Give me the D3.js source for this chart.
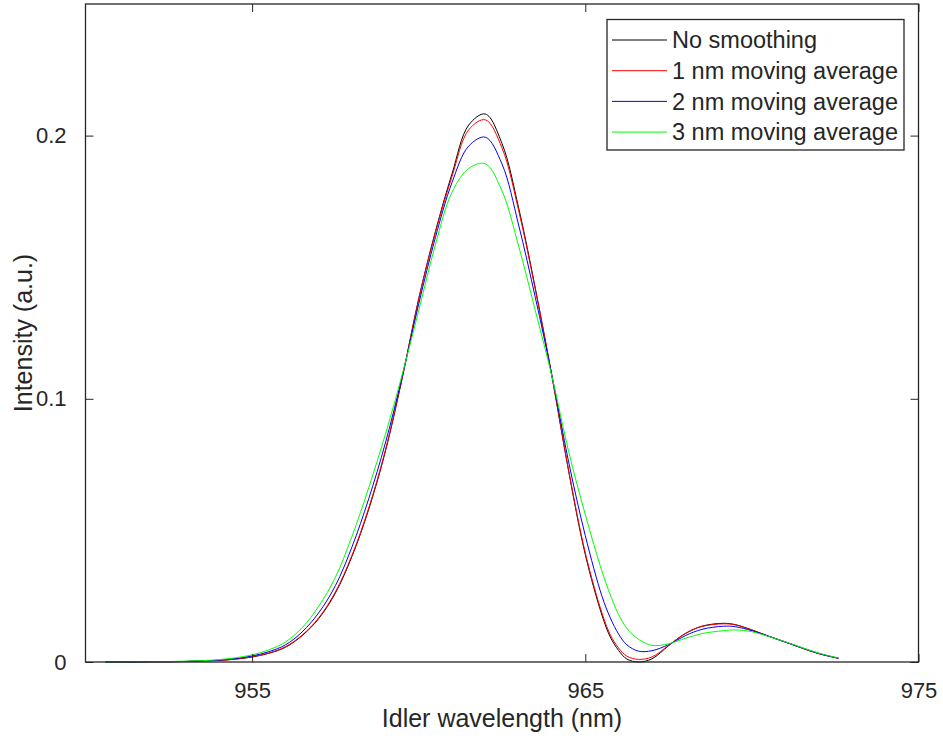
<!DOCTYPE html>
<html>
<head>
    <meta charset="utf-8">
    <title>Idler spectrum</title>
    <style>
        body { margin: 0; background: #fff; }
        text { font-family: "Liberation Sans", Arial, sans-serif; fill: #262626; }
    </style>
</head>
<body>
    <script src="https://cdnjs.cloudflare.com/ajax/libs/d3/7.9.0/d3.min.js"></script>
    <script>

        // wavelength grid (nm)
        const wavelengths = [950.6, 951, 951.5, 952, 952.5, 953, 953.5, 954, 954.5, 955, 955.5, 956, 956.5, 957, 957.5,
            958, 958.5, 959, 959.5, 960, 960.5, 961, 961.5, 962, 962.5, 963, 963.5, 964, 964.5, 965, 965.5, 965.75,
            966, 966.25, 966.6, 967, 967.5, 968, 968.5, 969.15, 969.5, 970, 970.5, 971, 971.5, 972, 972.6];

        const noSmoothing = [0, 0, 0, 0.0001, 0.0001, 0.0002, 0.0004, 0.0006, 0.0011, 0.0019, 0.0033, 0.0056, 0.0100, 0.0165, 0.0262,
            0.0402, 0.0580, 0.0800, 0.1075, 0.1380, 0.1635, 0.1855, 0.2040, 0.2082, 0.1970, 0.1725, 0.1420, 0.1085, 0.0725, 0.0408, 0.0178, 0.0095,
            0.0044, 0.0011, 0.0000, 0.0012, 0.0062, 0.0108, 0.0136, 0.0147, 0.0142, 0.0122, 0.0098, 0.0076, 0.0053, 0.0032, 0.0014];

        const avg1nm = [0, 0, 0, 0.0001, 0.0001, 0.0002, 0.0004, 0.0006, 0.0011, 0.0020, 0.0034, 0.0058, 0.0102, 0.0168, 0.0266,
            0.0406, 0.0585, 0.0805, 0.1078, 0.1378, 0.1630, 0.1845, 0.2022, 0.2060, 0.1953, 0.1715, 0.1415, 0.1085, 0.0728, 0.0415, 0.0186, 0.0104,
            0.0053, 0.0022, 0.0010, 0.0019, 0.0063, 0.0108, 0.0135, 0.0145, 0.0141, 0.0121, 0.0098, 0.0076, 0.0053, 0.0032, 0.0014];

        const avg2nm = [0, 0, 0, 0.0001, 0.0001, 0.0002, 0.0004, 0.0007, 0.0013, 0.0023, 0.0039, 0.0065, 0.0114, 0.0187, 0.0290,
            0.0438, 0.0620, 0.0832, 0.1082, 0.1360, 0.1612, 0.1822, 0.1960, 0.1994, 0.1892, 0.1660, 0.1385, 0.1088, 0.0760, 0.0480, 0.0250, 0.0168,
            0.0106, 0.0065, 0.0041, 0.0043, 0.0066, 0.0100, 0.0124, 0.0136, 0.0134, 0.0119, 0.0098, 0.0076, 0.0054, 0.0033, 0.0014];

        const avg3nm = [0, 0, 0.0001, 0.0001, 0.0002, 0.0003, 0.0005, 0.0009, 0.0016, 0.0027, 0.0046, 0.0076, 0.0130, 0.0212, 0.0322,
            0.0478, 0.0662, 0.0865, 0.1090, 0.1335, 0.1585, 0.1785, 0.1875, 0.1893, 0.1790, 0.1580, 0.1335, 0.1085, 0.0800, 0.0560, 0.0345, 0.0255,
            0.0180, 0.0128, 0.0086, 0.0063, 0.0069, 0.0090, 0.0108, 0.0119, 0.0122, 0.0115, 0.0097, 0.0077, 0.0055, 0.0034, 0.0015];

        const seriesNames = ["No smoothing", "1 nm moving average", "2 nm moving average", "3 nm moving average"];
        const seriesColors = ["#000000", "#ff0000", "#0000ff", "#00ff00"];
        const xTicks = [955, 965, 975];
        const yTicks = [0, 0.1, 0.2];

        const width = 943;
        const height = 739;
        const margin = {top: 4, right: 24.5, bottom: 77, left: 85.5};

        const svg = d3.select("body")
            .append("svg")
            .attr("width", width)
            .attr("height", height);

        const scaleX = d3.scaleLinear()
            .domain([950, 975])
            .range([margin.left, width - margin.right]);

        const scaleY = d3.scaleLinear()
            .domain([0, 0.25])
            .range([height - margin.bottom, margin.top]);

        const x0 = scaleX.range()[0], x1 = scaleX.range()[1];
        const y0 = scaleY.range()[0], y1 = scaleY.range()[1];
        const tickLen = 8;

        // curves
        const line = d3.line()
            .x(d => scaleX(d[0]))
            .y(d => scaleY(d[1]))
            .curve(d3.curveCatmullRom.alpha(0.5));

        const allSeries = [noSmoothing, avg1nm, avg2nm, avg3nm];

        svg.append("g")
            .selectAll("path")
            .data(allSeries)
            .enter()
            .append("path")
            .attr("d", s => line(wavelengths.map((w, i) => [w, s[i]])))
            .attr("fill", "none")
            .attr("stroke", (s, i) => seriesColors[i])
            .attr("stroke-width", 1);

        // axes: bottom/left with labels, top/right mirrored ticks only
        const axisStyle = g => {
            g.select(".domain").remove();
            g.selectAll(".tick line").attr("stroke", "#262626");
            g.selectAll(".tick text").attr("font-size", 22).attr("fill", "#262626");
        };

        svg.append("g")
            .attr("transform", `translate(0,${y0})`)
            .call(d3.axisBottom(scaleX).tickValues(xTicks).tickSizeInner(-tickLen).tickSizeOuter(0).tickPadding(20))
            .call(axisStyle);

        svg.append("g")
            .attr("transform", `translate(0,${y1})`)
            .call(d3.axisTop(scaleX).tickValues(xTicks).tickSizeInner(-tickLen).tickSizeOuter(0).tickFormat(""))
            .call(axisStyle);

        svg.append("g")
            .attr("transform", `translate(${x0},0)`)
            .call(d3.axisLeft(scaleY).tickValues(yTicks).tickSizeInner(-tickLen).tickSizeOuter(0).tickPadding(19)
                .tickFormat(d => d === 0 ? "0" : d3.format(".1f")(d)))
            .call(axisStyle);

        svg.append("g")
            .attr("transform", `translate(${x1},0)`)
            .call(d3.axisRight(scaleY).tickValues(yTicks).tickSizeInner(-tickLen).tickSizeOuter(0).tickFormat(""))
            .call(axisStyle);

        // box
        svg.append("rect")
            .attr("x", x0)
            .attr("y", y1)
            .attr("width", x1 - x0)
            .attr("height", y0 - y1)
            .attr("fill", "none")
            .attr("stroke", "#262626")
            .attr("stroke-width", 1.3);

        // axis titles
        svg.append("text")
            .attr("x", (x0 + x1) / 2)
            .attr("y", 727)
            .attr("text-anchor", "middle")
            .attr("font-size", 25)
            .text("Idler wavelength (nm)");

        svg.append("text")
            .attr("transform", `translate(32,${(y0 + y1) / 2}) rotate(-90)`)
            .attr("text-anchor", "middle")
            .attr("font-size", 25)
            .text("Intensity (a.u.)");

        // legend
        const legend = svg.append("g");
        legend.append("rect")
            .attr("x", 607)
            .attr("y", 19.5)
            .attr("width", 297)
            .attr("height", 130.5)
            .attr("fill", "#fff")
            .attr("stroke", "#262626")
            .attr("stroke-width", 1.3);

        const rows = legend.selectAll(".row")
            .data(seriesNames)
            .enter()
            .append("g")
            .attr("transform", (d, i) => `translate(0,${40 + i * 30.7})`);

        rows.append("line")
            .attr("x1", 612)
            .attr("x2", 667)
            .attr("stroke", (d, i) => seriesColors[i])
            .attr("stroke-width", 1);

        rows.append("text")
            .attr("x", 672)
            .attr("dy", "0.35em")
            .attr("font-size", 23.5)
            .attr("fill", "#000")
            .text(d => d);

    </script>
</body>
</html>
